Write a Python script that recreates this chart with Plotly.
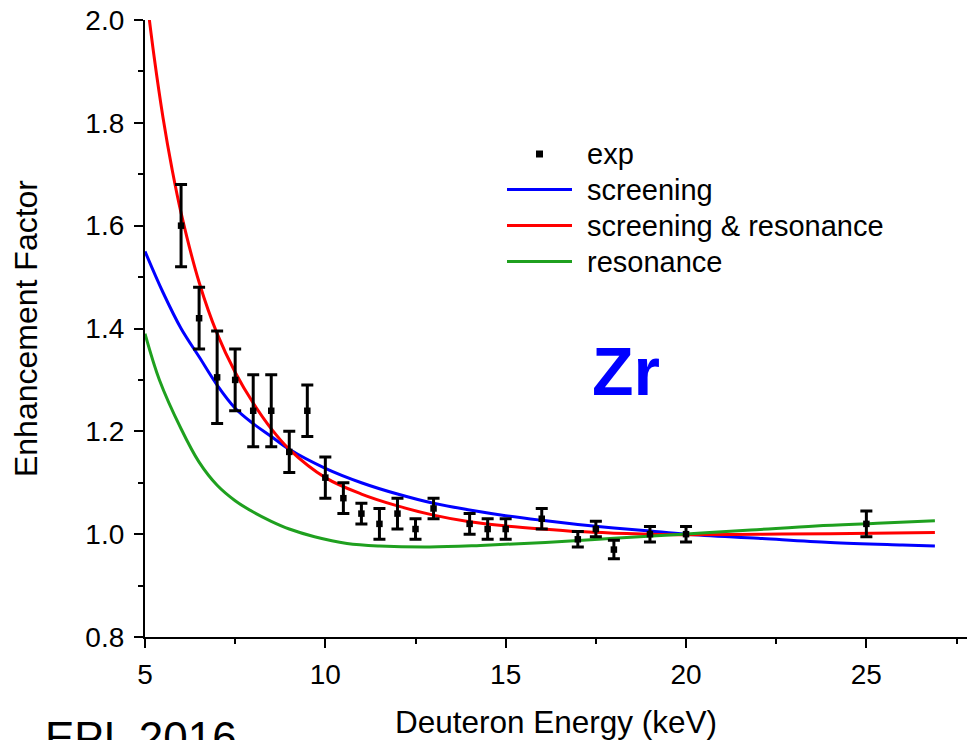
import plotly.graph_objects as go

# Experimental enhancement factors for d+d on Zr
exp_energy = [6.0, 6.5, 7.0, 7.5, 8.0, 8.5, 9.0, 9.5, 10.0, 10.5, 11.0, 11.5, 12.0, 12.5,
              13.0, 14.0, 14.5, 15.0, 16.0, 17.0, 17.5, 18.0, 19.0, 20.0, 25.0]
exp_factor = [1.60, 1.42, 1.305, 1.30, 1.24, 1.24, 1.16, 1.24, 1.11, 1.07, 1.04, 1.02, 1.04, 1.01,
              1.05, 1.02, 1.01, 1.01, 1.03, 0.99, 1.01, 0.97, 1.00, 1.00, 1.02]
exp_error = [0.08, 0.06, 0.09, 0.06, 0.07, 0.07, 0.04, 0.05, 0.04, 0.03, 0.02, 0.03, 0.03, 0.02,
             0.02, 0.02, 0.02, 0.02, 0.02, 0.015, 0.015, 0.018, 0.015, 0.015, 0.025]

# Model curves
screen_energy = [5.0, 5.5, 6.0, 6.5, 7.0, 7.5, 8.0, 8.5, 9.0, 10.0, 11.0, 12.0, 13.0, 14.0,
                 15.0, 16.0, 17.0, 18.0, 19.0, 20.0, 22.0, 24.0, 26.0, 26.9]
screen_factor = [1.55, 1.47, 1.40, 1.345, 1.29, 1.245, 1.215, 1.19, 1.165, 1.128, 1.10, 1.078,
                 1.060, 1.047, 1.036, 1.027, 1.019, 1.012, 1.006, 1.000, 0.992, 0.984, 0.979, 0.977]

both_energy = [5.0, 5.25, 5.5, 5.75, 6.0, 6.5, 7.0, 7.5, 8.0, 8.5, 9.0, 10.0, 11.0, 12.0, 13.0,
               14.0, 15.0, 16.0, 17.0, 18.0, 19.0, 20.0, 22.0, 24.0, 26.9]
both_factor = [2.07, 1.93, 1.81, 1.71, 1.625, 1.49, 1.39, 1.315, 1.255, 1.205, 1.165, 1.11, 1.078,
               1.055, 1.037, 1.024, 1.016, 1.010, 1.005, 1.002, 1.000, 0.999, 1.000, 1.001, 1.003]

reson_energy = [5.0, 5.4, 6.0, 6.5, 7.0, 7.5, 8.0, 8.5, 9.0, 9.7, 10.6, 11.5, 12.9, 14.3,
                16.1, 18.0, 19.9, 21.8, 23.6, 25.3, 26.9]
reson_factor = [1.39, 1.30, 1.205, 1.14, 1.095, 1.065, 1.043, 1.025, 1.010, 0.995, 0.982, 0.977,
                0.975, 0.978, 0.984, 0.992, 1.000, 1.008, 1.016, 1.021, 1.026]

x_ticks = [5, 10, 15, 20, 25]
y_ticks = [0.8, 1.0, 1.2, 1.4, 1.6, 1.8, 2.0]

# Legend entries: label, colour, kind
legend_labels = ["exp", "screening", "screening & resonance", "resonance"]
legend_colors = ["black", "#0000FF", "#FF0000", "#1FA01F"]
legend_kinds = ["marker", "line", "line", "line"]

FONT = "Arial, Liberation Sans, sans-serif"
X_RANGE = [5, 27.79]
Y_RANGE = [0.8, 2.0]

W, H = 967, 740
ML, MR, MT, MB = 145, 0, 20, 103
PW, PH = W - ML - MR, H - MT - MB


def px_to_paper(px, py):
    return (px - ML) / PW, (H - MB - py) / PH


fig = go.Figure()

fig.add_trace(go.Scatter(x=screen_energy, y=screen_factor, mode="lines", name=legend_labels[1],
                         line=dict(color=legend_colors[1], width=3, shape="spline")))
fig.add_trace(go.Scatter(x=both_energy, y=both_factor, mode="lines", name=legend_labels[2],
                         line=dict(color=legend_colors[2], width=3, shape="spline")))
fig.add_trace(go.Scatter(x=reson_energy, y=reson_factor, mode="lines", name=legend_labels[3],
                         line=dict(color=legend_colors[3], width=3, shape="spline")))
fig.add_trace(go.Scatter(x=exp_energy, y=exp_factor, mode="markers", name=legend_labels[0],
                         marker=dict(symbol="square", size=6.5, color="black"),
                         error_y=dict(type="data", array=exp_error, color="black",
                                      thickness=3, width=6)))

axis_common = dict(showgrid=False, zeroline=False, linecolor="black", linewidth=2.2,
                   tickcolor="black", tickwidth=2)

fig.update_layout(
    width=W, height=H,
    margin=dict(l=ML, r=MR, t=MT, b=MB),
    paper_bgcolor="white", plot_bgcolor="white",
    font=dict(family=FONT, color="black"),
    showlegend=False,
    xaxis=dict(range=X_RANGE, tickvals=x_ticks, ticks="outside", ticklen=9, showline=True,
               tickfont=dict(size=28), ticklabelstandoff=2,
               minor=dict(dtick=2.5, tick0=5, ticks="outside", ticklen=5, tickwidth=2,
                          tickcolor="black"),
               title=dict(text="Deuteron Energy (keV)", font=dict(size=31.5), standoff=22),
               **axis_common),
    xaxis2=dict(range=X_RANGE, overlaying="x", side="top", tickvals=x_ticks, ticks="inside",
                ticklen=9, showline=True, showticklabels=False,
                minor=dict(dtick=2.5, tick0=5, ticks="inside", ticklen=5, tickwidth=2,
                           tickcolor="black"),
                **axis_common),
    yaxis=dict(range=Y_RANGE, tickvals=y_ticks, tickformat=".1f", ticks="outside", ticklen=9,
               showline=True, tickfont=dict(size=28), ticklabelstandoff=4,
               minor=dict(dtick=0.1, tick0=0.8, ticks="outside", ticklen=5, tickwidth=2,
                          tickcolor="black"),
               title=dict(text="Enhancement Factor", font=dict(size=32), standoff=38),
               **axis_common),
    yaxis2=dict(range=Y_RANGE, overlaying="y", side="right", tickvals=y_ticks, ticks="inside",
                ticklen=6, showline=False, showticklabels=False,
                **axis_common),
)

# Legend block drawn in paper coordinates
row_y = [154, 189.5, 225.5, 261.5]
sample_x0, sample_x1, text_x = 507, 572, 585
for label, color, kind, py in zip(legend_labels, legend_colors, legend_kinds, row_y):
    tx, ty = px_to_paper(text_x, py)
    fig.add_annotation(x=tx, y=ty, xref="paper", yref="paper", text=label, showarrow=False,
                       xanchor="left", yanchor="middle", font=dict(size=29, color="black"))
    if kind == "line":
        x0, y0 = px_to_paper(sample_x0, py)
        x1, _ = px_to_paper(sample_x1, py)
        fig.add_shape(type="line", xref="paper", yref="paper", x0=x0, x1=x1, y0=y0, y1=y0,
                      line=dict(color=color, width=3))
    else:
        cx, cy = px_to_paper((sample_x0 + sample_x1) / 2, py)
        hx, hy = 3.5 / PW, 3.5 / PH
        fig.add_shape(type="rect", xref="paper", yref="paper", x0=cx - hx, x1=cx + hx,
                      y0=cy - hy, y1=cy + hy, line=dict(width=0), fillcolor=color)

fig.add_annotation(x=18.33, y=1.317, xref="x", yref="y", text="<b>Zr</b>", showarrow=False,
                   font=dict(size=68, color="#0000FF", family=FONT))

ex, ey = px_to_paper(43, 711)
fig.add_annotation(x=ex, y=ey, xref="paper", yref="paper", text="EPL 2016",
                   showarrow=False, xanchor="left", yanchor="top",
                   font=dict(size=44, color="black", family=FONT))

fig.write_html("out.html")
